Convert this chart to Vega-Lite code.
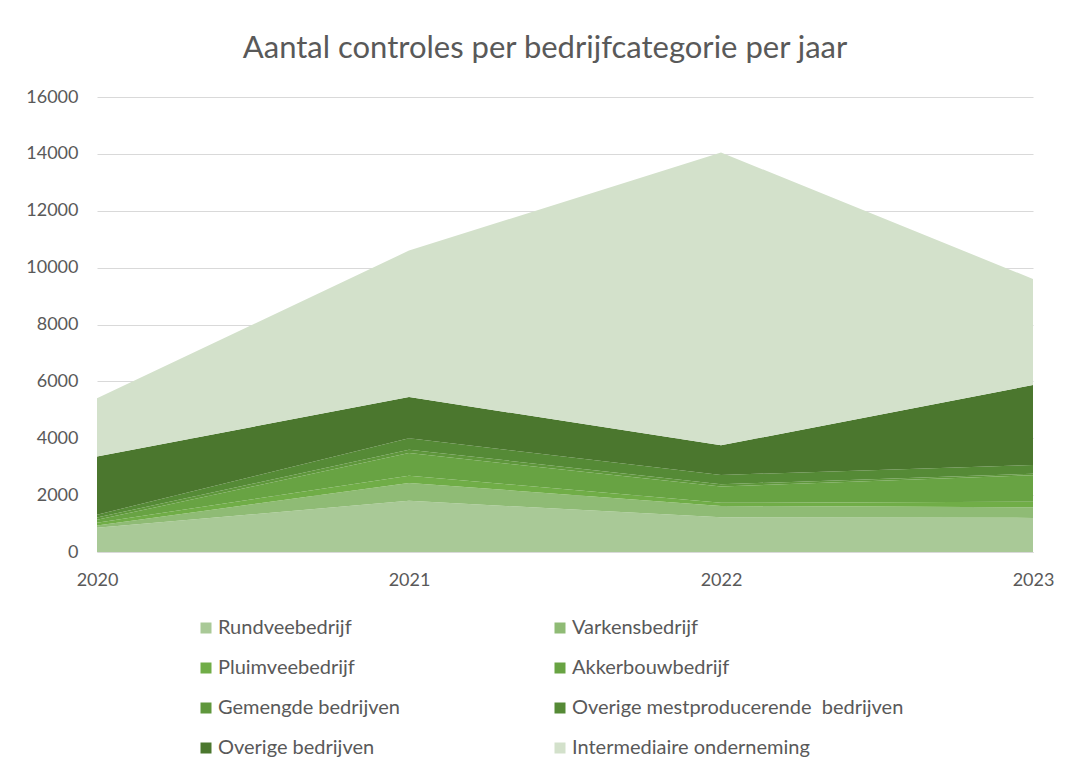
{
  "$schema": "https://vega.github.io/schema/vega-lite/v6.json",
  "width": 936,
  "height": 455,
  "autosize": "none",
  "padding": {"left": 97, "top": 97, "right": 37, "bottom": 224},
  "background": "white",
  "title": {
    "text": "Aantal controles per bedrijfcategorie per jaar",
    "font": "Lato",
    "fontSize": 31,
    "fontWeight": "normal",
    "color": "#595959",
    "anchor": "middle",
    "dx": -20,
    "offset": 23
  },
  "data": {
    "values": [
      {"jaar": 2020, "n": 1, "categorie": "Rundveebedrijf", "aantal": 850},
      {"jaar": 2020, "n": 2, "categorie": "Varkensbedrijf", "aantal": 80},
      {"jaar": 2020, "n": 3, "categorie": "Pluimveebedrijf", "aantal": 100},
      {"jaar": 2020, "n": 4, "categorie": "Akkerbouwbedrijf", "aantal": 100},
      {"jaar": 2020, "n": 5, "categorie": "Gemengde bedrijven", "aantal": 80},
      {"jaar": 2020, "n": 6, "categorie": "Overige mestproducerende \u00a0bedrijven", "aantal": 100},
      {"jaar": 2020, "n": 7, "categorie": "Overige bedrijven", "aantal": 2050},
      {"jaar": 2020, "n": 8, "categorie": "Intermediaire onderneming", "aantal": 2050},
      {"jaar": 2021, "n": 1, "categorie": "Rundveebedrijf", "aantal": 1800},
      {"jaar": 2021, "n": 2, "categorie": "Varkensbedrijf", "aantal": 630},
      {"jaar": 2021, "n": 3, "categorie": "Pluimveebedrijf", "aantal": 250},
      {"jaar": 2021, "n": 4, "categorie": "Akkerbouwbedrijf", "aantal": 800},
      {"jaar": 2021, "n": 5, "categorie": "Gemengde bedrijven", "aantal": 120},
      {"jaar": 2021, "n": 6, "categorie": "Overige mestproducerende \u00a0bedrijven", "aantal": 400},
      {"jaar": 2021, "n": 7, "categorie": "Overige bedrijven", "aantal": 1450},
      {"jaar": 2021, "n": 8, "categorie": "Intermediaire onderneming", "aantal": 5150},
      {"jaar": 2022, "n": 1, "categorie": "Rundveebedrijf", "aantal": 1220},
      {"jaar": 2022, "n": 2, "categorie": "Varkensbedrijf", "aantal": 400},
      {"jaar": 2022, "n": 3, "categorie": "Pluimveebedrijf", "aantal": 110},
      {"jaar": 2022, "n": 4, "categorie": "Akkerbouwbedrijf", "aantal": 570},
      {"jaar": 2022, "n": 5, "categorie": "Gemengde bedrijven", "aantal": 80},
      {"jaar": 2022, "n": 6, "categorie": "Overige mestproducerende \u00a0bedrijven", "aantal": 330},
      {"jaar": 2022, "n": 7, "categorie": "Overige bedrijven", "aantal": 1040},
      {"jaar": 2022, "n": 8, "categorie": "Intermediaire onderneming", "aantal": 10300},
      {"jaar": 2023, "n": 1, "categorie": "Rundveebedrijf", "aantal": 1200},
      {"jaar": 2023, "n": 2, "categorie": "Varkensbedrijf", "aantal": 370},
      {"jaar": 2023, "n": 3, "categorie": "Pluimveebedrijf", "aantal": 200},
      {"jaar": 2023, "n": 4, "categorie": "Akkerbouwbedrijf", "aantal": 930},
      {"jaar": 2023, "n": 5, "categorie": "Gemengde bedrijven", "aantal": 50},
      {"jaar": 2023, "n": 6, "categorie": "Overige mestproducerende \u00a0bedrijven", "aantal": 310},
      {"jaar": 2023, "n": 7, "categorie": "Overige bedrijven", "aantal": 2810},
      {"jaar": 2023, "n": 8, "categorie": "Intermediaire onderneming", "aantal": 3730}
    ]
  },
  "mark": {"type": "area", "opacity": 1},
  "encoding": {
    "x": {
      "field": "jaar",
      "type": "quantitative",
      "scale": {"domain": [2020, 2023], "nice": false, "zero": false},
      "axis": {
        "title": null,
        "values": [2020, 2021, 2022, 2023],
        "format": "d",
        "grid": false,
        "ticks": false,
        "domain": true,
        "domainColor": "#d9d9d9",
        "domainWidth": 1,
        "labelFont": "Lato",
        "labelFontSize": 18,
        "labelColor": "#595959",
        "labelPadding": 19,
        "labelFlush": false
      }
    },
    "y": {
      "field": "aantal",
      "type": "quantitative",
      "stack": "zero",
      "scale": {"domain": [0, 16000], "nice": false},
      "axis": {
        "title": null,
        "values": [0, 2000, 4000, 6000, 8000, 10000, 12000, 14000, 16000],
        "format": "d",
        "grid": true,
        "gridColor": "#d9d9d9",
        "gridWidth": 1,
        "ticks": false,
        "domain": false,
        "labelFont": "Lato",
        "labelFontSize": 18,
        "labelColor": "#595959",
        "labelPadding": 19
      }
    },
    "order": {"field": "n", "type": "quantitative", "sort": "ascending"},
    "color": {
      "field": "categorie",
      "type": "nominal",
      "scale": {
        "domain": ["Rundveebedrijf", "Varkensbedrijf", "Pluimveebedrijf", "Akkerbouwbedrijf", "Gemengde bedrijven", "Overige mestproducerende \u00a0bedrijven", "Overige bedrijven", "Intermediaire onderneming"],
        "range": ["#a9c997", "#8fbb75", "#70ad47", "#68a343", "#5f973c", "#558a36", "#4b772e", "#d3e1cb"]
      },
      "legend": {
        "title": null,
        "orient": "none",
        "legendX": 99,
        "legendY": 521,
        "direction": "horizontal",
        "columns": 2,
        "gridAlign": "all",
        "columnPadding": -10,
        "rowPadding": 20,
        "symbolType": "square",
        "symbolSize": 121,
        "symbolStrokeWidth": 0,
        "symbolOffset": 0,
        "labelOffset": 2,
        "labelFont": "Lato",
        "labelFontSize": 20,
        "labelColor": "#595959",
        "labelLimit": 400
      }
    }
  },
  "config": {"view": {"stroke": null}}
}
